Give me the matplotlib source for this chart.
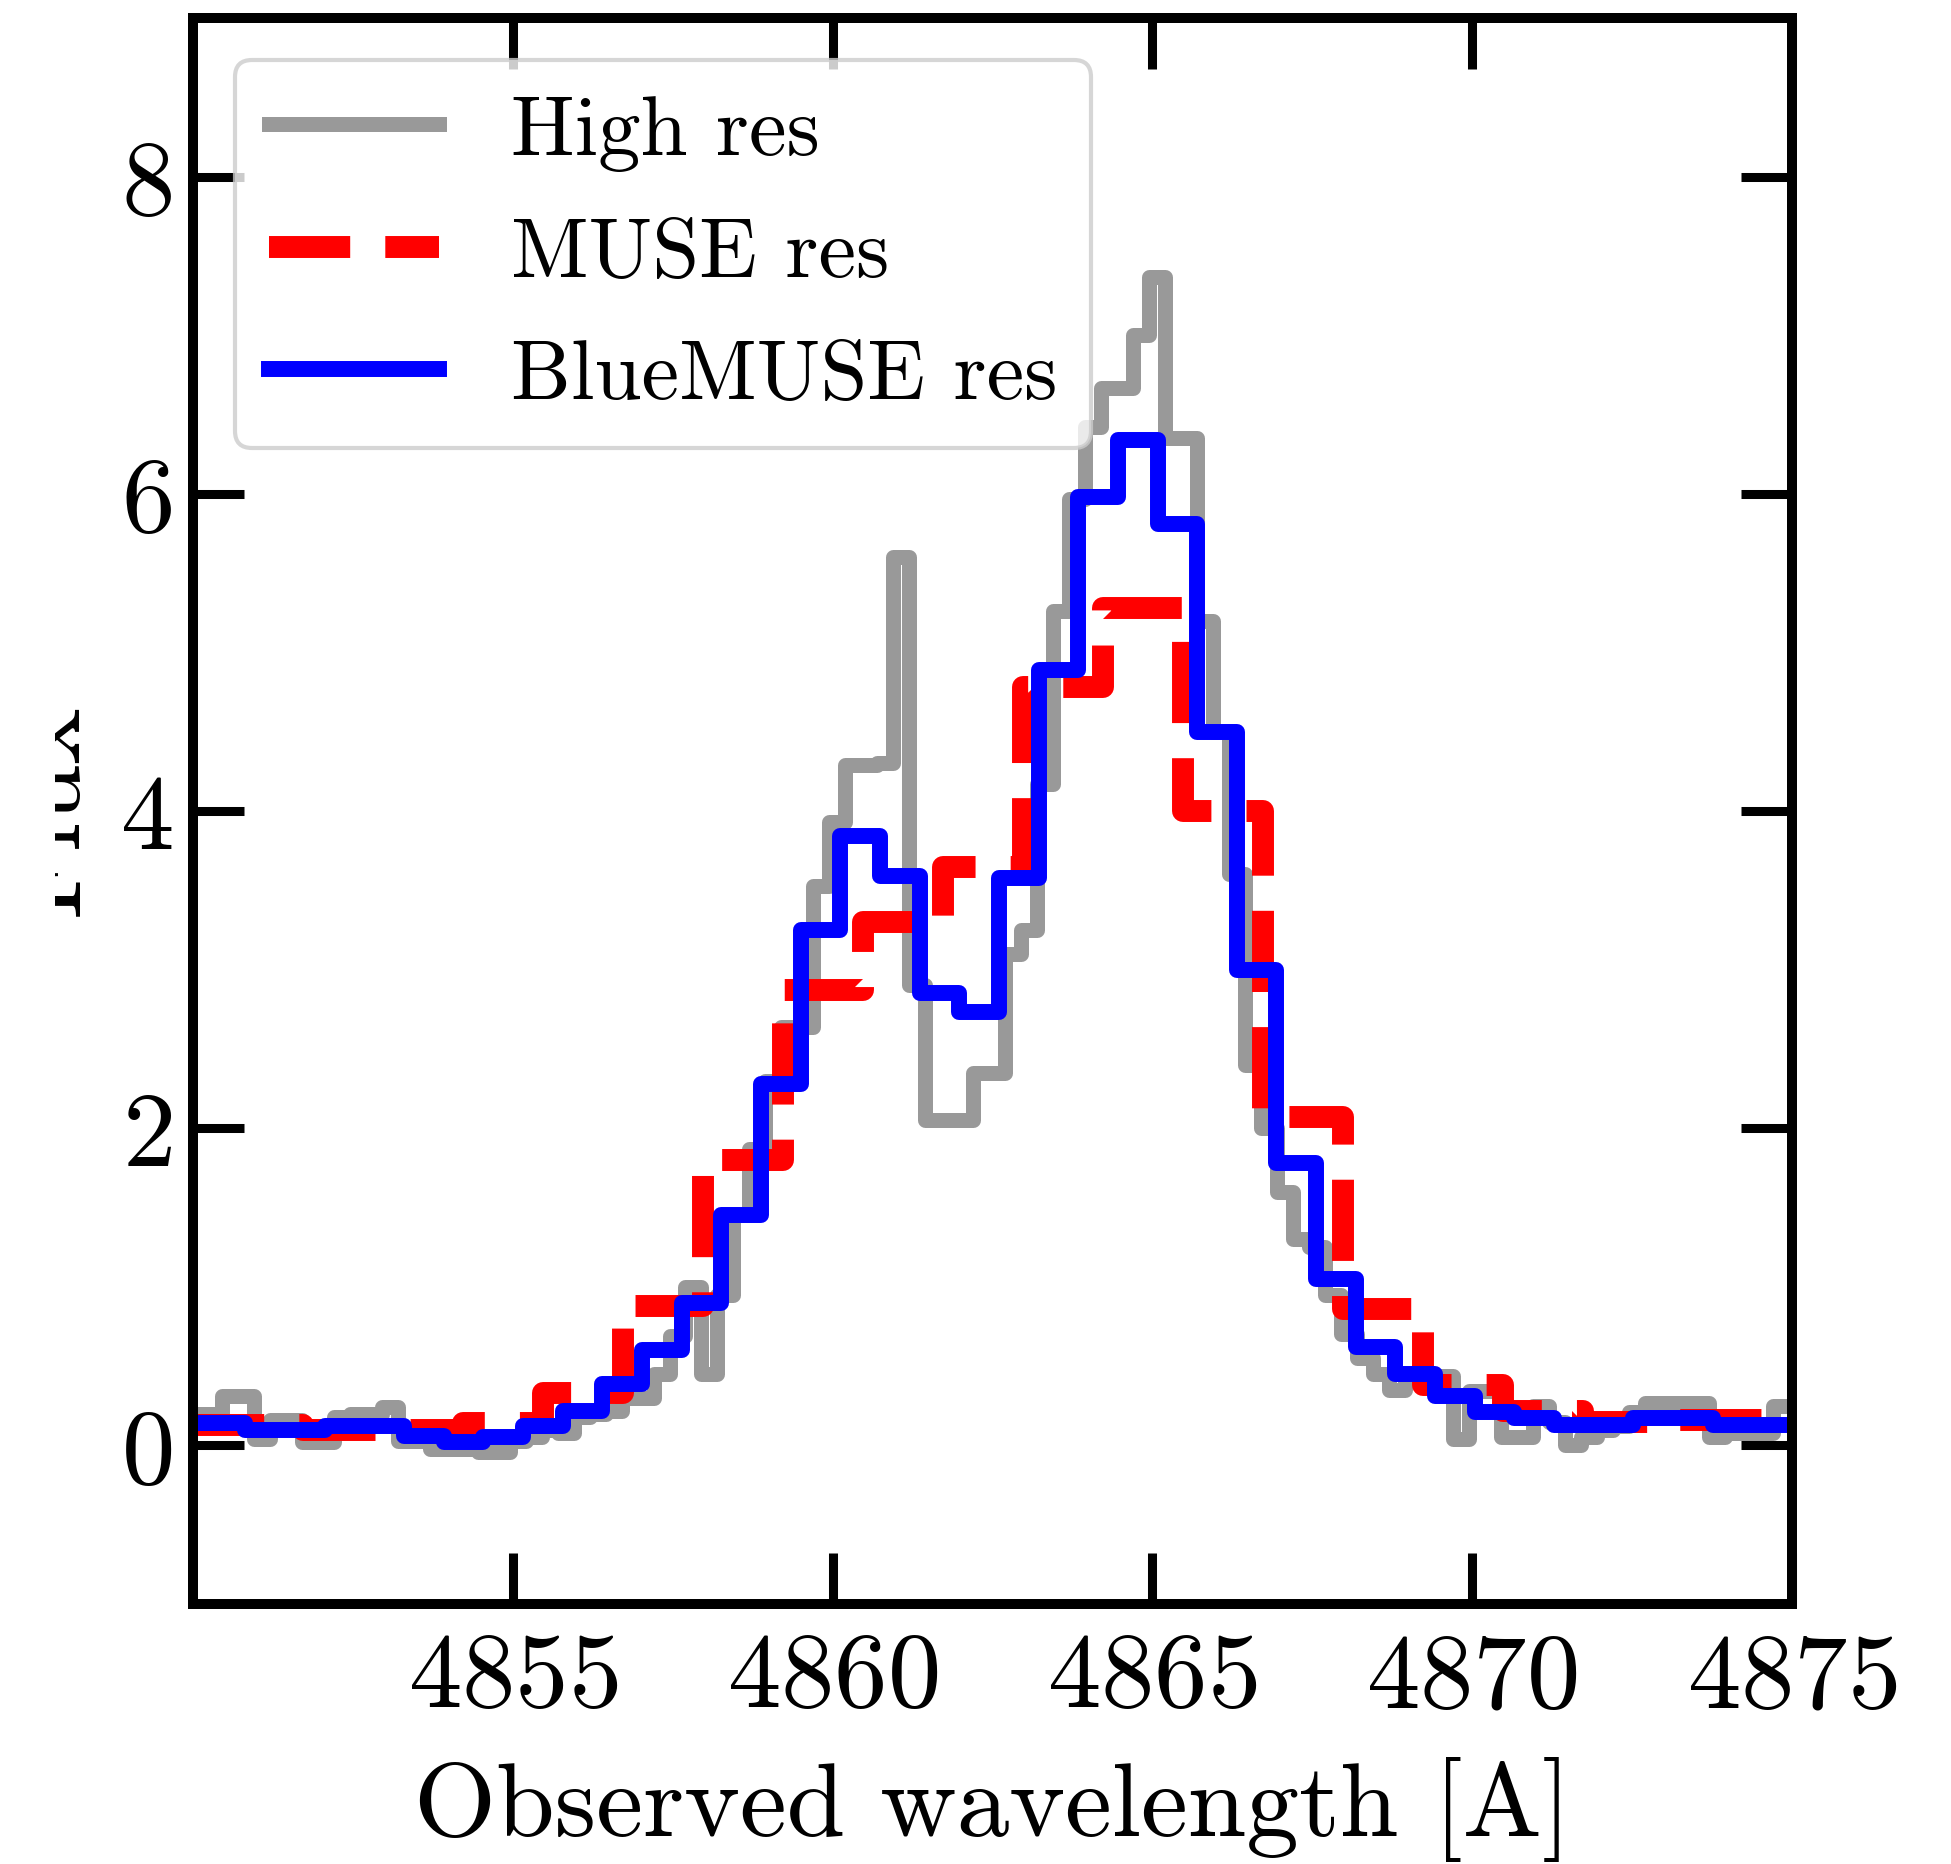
import numpy as np
import matplotlib
matplotlib.use('Agg')
import matplotlib.pyplot as plt
from matplotlib.transforms import Bbox, TransformedBbox

plt.rcParams['font.family'] = 'serif'
plt.rcParams['font.serif'] = ['cmr10']
plt.rcParams['mathtext.fontset'] = 'cm'
plt.rcParams['axes.formatter.use_mathtext'] = True

# high resolution spectrum (0.25 A bins)
wl_high_start = 4850.075
wl_high_step = 0.25
flux_high = [0.2, 0.2, 0.31, 0.31, 0.04, 0.16, 0.16, 0.02, 0.02, 0.18,
             0.2, 0.2, 0.24, 0.03, 0.03, -0.02, -0.02, -0.02, -0.04, -0.04,
             0.03, 0.05, 0.1, 0.08, 0.18, 0.2, 0.22, 0.3, 0.3, 0.45,
             0.69, 1.0, 0.45, 0.95, 1.45, 1.87, 2.3, 2.64, 2.64, 3.53,
             3.93, 4.29, 4.29, 4.3, 5.6, 2.9, 2.05, 2.05, 2.05, 2.35,
             2.35, 3.1, 3.25, 4.17, 5.26, 5.97, 6.42, 6.67, 6.67, 7.0,
             7.37, 6.35, 6.35, 5.2, 4.5, 3.6, 2.4, 2.0, 1.6, 1.3,
             1.25, 0.95, 0.7, 0.55, 0.45, 0.35, 0.42, 0.44, 0.44, 0.04,
             0.34, 0.34, 0.05, 0.05, 0.25, 0.15, 0.0, 0.05, 0.1, 0.12,
             0.21, 0.27, 0.27, 0.27, 0.27, 0.05, 0.08, 0.08, 0.08, 0.25, 0.25]

# MUSE sampling (1.25 A bins)
wl_muse_start = 4849.85
wl_muse_step = 1.25
flux_muse = [0.13, 0.13, 0.1, 0.1, 0.14, 0.33, 0.88, 1.8, 2.87, 3.3, 3.65,
             4.78, 5.28, 4.0, 2.07, 0.86, 0.38, 0.22, 0.15, 0.16, 0.16]

# BlueMUSE sampling (0.62 A bins)
wl_blue_start = 4849.89
wl_blue_step = 0.62
flux_blue = [0.14, 0.14, 0.1, 0.1, 0.12, 0.12, 0.06, 0.02, 0.05, 0.12,
             0.22, 0.39, 0.6, 0.9, 1.45, 2.28, 3.25, 3.84, 3.59, 2.85,
             2.73, 3.58, 4.89, 5.98, 6.34, 5.81, 4.5, 3.0, 1.78, 1.05,
             0.62, 0.45, 0.31, 0.21, 0.17, 0.13, 0.13, 0.17, 0.17, 0.13,
             0.13, 0.13]

xticks = [4855, 4860, 4865, 4870, 4875]
yticks = [0, 2, 4, 6, 8]

wl_high = wl_high_start + wl_high_step*np.arange(len(flux_high))
wl_muse = wl_muse_start + wl_muse_step*np.arange(len(flux_muse))
wl_blue = wl_blue_start + wl_blue_step*np.arange(len(flux_blue))

dpi = 100
fig = plt.figure(figsize=(1951/dpi, 1865/dpi), dpi=dpi)
ax = fig.add_axes([193/1951, 260/1865, (1792-193)/1951, (1605-19)/1865])

ax.step(wl_high, flux_high, where='mid', color='#999999', lw=10.8, label='High res')
ax.step(wl_muse, flux_muse, where='mid', color='r', lw=15.8, ls='--', label='MUSE res')
ax.step(wl_blue, flux_blue, where='mid', color='b', lw=11.5, label='BlueMUSE res')

ax.set_xlim(4850, 4875)
ax.set_ylim(-1, 9)
ax.set_xticks(xticks)
ax.set_yticks(yticks)
ax.tick_params(direction='in', length=37, width=6.5, top=True, right=True, labelsize=77)
ax.tick_params(axis='x', pad=20)
ax.tick_params(axis='y', pad=15)
for s in ax.spines.values():
    s.set_linewidth(7.2)

ax.set_xlabel('Observed wavelength [A]', fontsize=76, labelpad=21)
leg = ax.legend(loc='upper left', fontsize=61, labelspacing=0.55, handletextpad=0.85)
leg.get_frame().set_linewidth(3)

# y label sits mostly outside the visible area
ylab = fig.text(77/1951, 1 - 810/1865, 'Flux', fontsize=76, rotation=90,
                rotation_mode='anchor', ha='center', va='baseline')
ylab.set_clip_box(TransformedBbox(Bbox([[55/1951, 0], [1, 1]]), fig.transFigure))
ylab.set_clip_on(True)

fig.savefig('out.png', dpi=dpi)
